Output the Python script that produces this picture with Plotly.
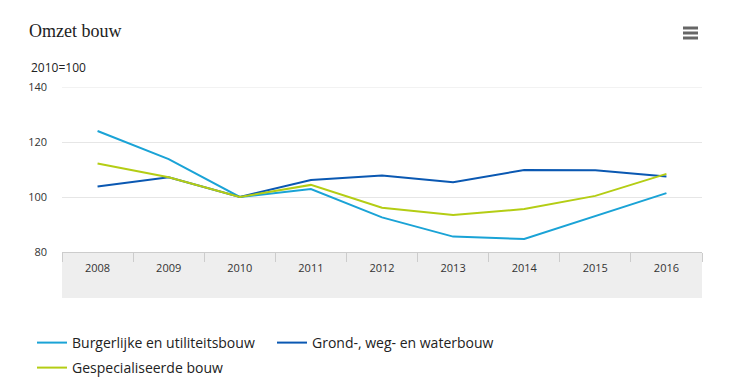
import plotly.graph_objects as go

years = ["2008", "2009", "2010", "2011", "2012", "2013", "2014", "2015", "2016"]
burgerlijk = [124.0, 113.8, 100.0, 102.9, 92.6, 85.6, 84.7, 93.0, 101.4]
grond = [103.8, 107.2, 100.0, 106.2, 107.8, 105.4, 109.8, 109.7, 107.5]
gespecialiseerd = [112.2, 107.2, 100.0, 104.4, 96.1, 93.5, 95.6, 100.4, 108.4]
y_ticks = [80, 100, 120, 140]

series = [
    ("Burgerlijke en utiliteitsbouw", burgerlijk, "#1aa3d6", "legend"),
    ("Grond-, weg- en waterbouw", grond, "#0a58b2", "legend"),
    ("Gespecialiseerde bouw", gespecialiseerd, "#b4cd14", "legend2"),
]

# page body has an 8px margin; work in window pixel coordinates and shift
OFF = 8
W, H = 729 - OFF, 389 - OFF
PL, PR, PT, PB = 62, 702, 87, 252  # plot area in window pixels
L, T = PL - OFF, PT - OFF
R = W - (PR - OFF)
B = H - (PB - OFF)
pw, ph = PR - PL, PB - PT

def px(x):
    return (x - PL) / pw

def py(y):
    return (PB - y) / ph

def cy(y):
    return 1 - (y - OFF) / H

def cx(x):
    return (x - OFF) / W

fig = go.Figure()
for name, vals, col, lg in series:
    fig.add_trace(go.Scatter(x=years, y=vals, name=name, mode="lines", legend=lg,
                             line=dict(color=col, width=2)))

shapes = [
    dict(type="rect", xref="paper", yref="paper", x0=0, x1=1, y0=py(298), y1=0,
         fillcolor="#eeeeee", line=dict(width=0), layer="below"),
    dict(type="line", xref="paper", yref="y", x0=0, x1=1, y0=y_ticks[-1], y1=y_ticks[-1],
         line=dict(color="#e6e6e6", width=1), layer="below"),
]
for yy in (28, 33, 38):
    shapes.append(dict(type="line", xref="paper", yref="paper", x0=px(683), x1=px(698),
                       y0=py(yy), y1=py(yy), line=dict(color="#666666", width=3)))

legend_common = dict(orientation="h", xanchor="left", yanchor="middle", xref="container",
                     yref="container", font=dict(size=14, color="#222222"),
                     entrywidth=195, entrywidthmode="pixels", itemwidth=30,
                     bgcolor="rgba(0,0,0,0)")

fig.update_layout(
    width=W, height=H,
    margin=dict(l=L, r=R, t=T, b=B),
    paper_bgcolor="white", plot_bgcolor="white",
    font=dict(family="Open Sans, sans-serif", size=11, color="#333333"),
    title=dict(text="Omzet bouw", x=cx(29), xanchor="left", xref="container",
               y=cy(31), yanchor="middle", yref="container",
               font=dict(family="Liberation Serif, serif", size=18, color="#222222")),
    showlegend=True,
    legend=dict(x=cx(32), y=cy(343), **legend_common),
    legend2=dict(x=cx(32), y=cy(368), **legend_common),
    shapes=shapes,
    annotations=[dict(text="2010=100", xref="paper", yref="paper", x=px(29), y=py(68),
                      xanchor="left", yanchor="middle", showarrow=False,
                      font=dict(size=12, color="#222222"))],
    xaxis=dict(type="category", range=[-0.5, 8.5], showgrid=False, showline=True,
               linecolor="#cccccc", linewidth=1, ticks="outside", tickson="boundaries",
               ticklen=9, tickcolor="#cccccc", tickfont=dict(size=11, color="#333333"),
               ticklabelstandoff=6, fixedrange=True),
    yaxis=dict(range=[80, 140], tickvals=y_ticks, showgrid=True, gridcolor="#e6e6e6",
               zeroline=False, showline=False, ticks="", ticklabelstandoff=14,
               tickfont=dict(size=11, color="#333333"), fixedrange=True),
)

fig.write_html("out.html")
